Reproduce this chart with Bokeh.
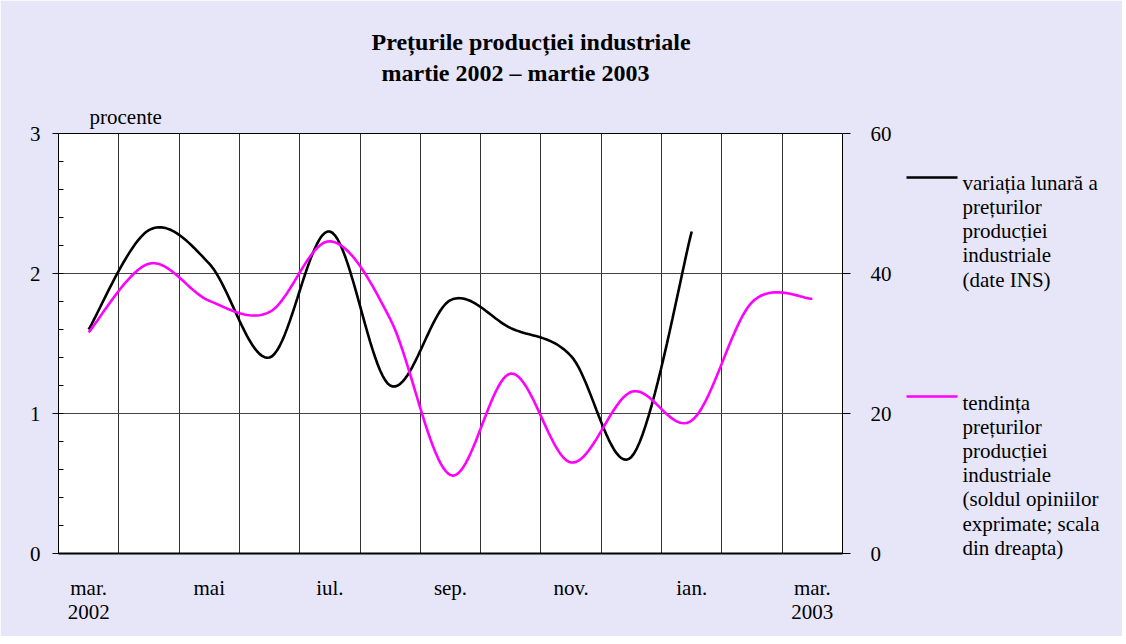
import numpy as np
from bokeh.plotting import figure
from bokeh.models import (Range1d, LinearAxis, FixedTicker, SingleIntervalTicker, Title)
from bokeh.embed import file_html
from bokeh.resources import INLINE

# ---------------- data ----------------
months = ["mar.", "apr.", "mai", "iun.", "iul.", "aug.", "sep.", "oct.",
          "nov.", "dec.", "ian.", "feb.", "mar."]
tick_months = ["mar.", "mai", "iul.", "sep.", "nov.", "ian.", "mar."]
years = ["2002", "2003"]
# monthly variation of industrial producer prices (%, left scale), mar 2002 - ian 2003
variatia = [1.60, 2.31, 2.07, 1.40, 2.30, 1.20, 1.81, 1.61, 1.41, 0.69, 2.30]
# price tendency (balance of opinions, right scale), mar 2002 - mar 2003
tendinta = [31.6, 41.4, 36.1, 34.5, 44.6, 33.5, 11.2, 25.7, 13.0, 23.1, 19.0, 35.9, 36.4]

title_lines = ["Prețurile producției industriale", "martie 2002 – martie 2003"]
unit_label = "procente"
legend1 = ["variația lunară a", "prețurilor", "producției", "industriale", "(date INS)"]
legend2 = ["tendința", "prețurilor", "producției", "industriale",
           "(soldul opiniilor", "exprimate; scala", "din dreapta)"]
series_colors = ["black", "#ff00ff"]

FONT = "Liberation Serif"
BG = "#e6e6f8"


def smooth(vals, n=24):
    """Excel-like smoothed line (cubic Bezier through the points)."""
    y = np.asarray(vals, float)
    x = np.arange(len(y), dtype=float)
    xs, ys = [], []
    m = len(y)
    for i in range(m - 1):
        a = i - 1 if i > 0 else i
        d = i + 2 if i + 2 < m else i + 1
        c1x = x[i] + (x[i + 1] - x[a]) / 6
        c1y = y[i] + (y[i + 1] - y[a]) / 6
        c2x = x[i + 1] - (x[d] - x[i]) / 6
        c2y = y[i + 1] - (y[d] - y[i]) / 6
        t = np.linspace(0, 1, n, endpoint=(i == m - 2))
        xs.append((1 - t) ** 3 * x[i] + 3 * (1 - t) ** 2 * t * c1x + 3 * (1 - t) * t ** 2 * c2x + t ** 3 * x[i + 1])
        ys.append((1 - t) ** 3 * y[i] + 3 * (1 - t) ** 2 * t * c1y + 3 * (1 - t) * t ** 2 * c2y + t ** 3 * y[i + 1])
    return np.concatenate(xs), np.concatenate(ys)


TOP, LEFT, FW, FH = 133, 58, 784, 420
nm = len(months)
p = figure(width=1122, height=636, x_range=Range1d(-0.5, nm - 0.5), y_range=Range1d(0, 3),
           output_backend="svg", toolbar_location=None, title=None,
           min_border_left=LEFT, min_border_right=1122 - LEFT - FW,
           min_border_top=TOP, min_border_bottom=636 - TOP - FH)
p.border_fill_color = BG
p.background_fill_color = "white"
p.outline_line_color = "black"
p.outline_line_width = 1

# x axis (months)
tick_pos = list(range(0, nm, 2))
p.xaxis.ticker = FixedTicker(ticks=tick_pos)
p.xaxis.major_label_overrides = {k: lab for k, lab in zip(tick_pos, tick_months)}
p.xaxis.major_tick_out = 0
p.xaxis.major_tick_in = 0
p.xaxis.minor_tick_out = 0
p.xaxis.minor_tick_in = 0
p.xaxis.axis_line_width = 2
p.xaxis.axis_line_color = "black"
p.xaxis.major_label_standoff = 22
p.xaxis.major_label_text_font = FONT
p.xaxis.major_label_text_font_size = "21px"
p.xaxis.major_label_text_color = "black"

# year axis
yax = LinearAxis(ticker=FixedTicker(ticks=[0, nm - 1]),
                 major_label_overrides={0: years[0], nm - 1: years[1]},
                 axis_line_color=None, major_tick_out=0, major_tick_in=0,
                 minor_tick_out=0, minor_tick_in=0, major_label_standoff=2,
                 major_label_text_font=FONT, major_label_text_font_size="21px",
                 major_label_text_color="black")
p.add_layout(yax, "below")

# left axis
p.yaxis.ticker = SingleIntervalTicker(interval=1, num_minor_ticks=5)
p.yaxis.major_tick_out = 6
p.yaxis.major_tick_in = 0
p.yaxis.minor_tick_in = 5
p.yaxis.minor_tick_out = 0
p.yaxis.axis_line_color = "black"
p.yaxis.major_tick_line_color = "black"
p.yaxis.minor_tick_line_color = "black"
p.yaxis.major_label_standoff = 12
p.yaxis.major_label_text_font = FONT
p.yaxis.major_label_text_font_size = "21px"
p.yaxis.major_label_text_color = "black"

# right axis
p.extra_y_ranges = {"right": Range1d(0, 60),
                    # page-pixel rows, used only to place the legend beside the chart
                    "page": Range1d(TOP + FH, TOP)}
rax = LinearAxis(y_range_name="right", ticker=SingleIntervalTicker(interval=20, num_minor_ticks=0),
                 major_tick_out=8, major_tick_in=0, minor_tick_out=0, minor_tick_in=0,
                 axis_line_color="black", major_label_standoff=20,
                 major_label_text_font=FONT, major_label_text_font_size="21px",
                 major_label_text_color="black")
p.add_layout(rax, "right")

# grids
p.xgrid.ticker = FixedTicker(ticks=[i + 0.5 for i in range(nm - 1)])
p.xgrid.grid_line_color = "#333333"
p.xgrid.grid_line_width = 1
p.ygrid.ticker = FixedTicker(ticks=[1, 2])
p.ygrid.grid_line_color = "#444444"
p.ygrid.grid_line_width = 1

# lines
bx, by = smooth(variatia)
p.line(bx, by, line_color=series_colors[0], line_width=2.6)
mx, my = smooth(tendinta)
p.line(mx, my, line_color=series_colors[1], line_width=2.6, y_range_name="right")

# titles (stacked above the frame: nearest first)
p.add_layout(Title(text=unit_label, align="left", offset=31, standoff=9,
                   text_font=FONT, text_font_size="21px", text_font_style="normal",
                   text_color="black"), "above")
p.add_layout(Title(text=title_lines[1], align="left", offset=323, standoff=25,
                   text_font=FONT, text_font_size="24px", text_font_style="bold",
                   text_color="black"), "above")
p.add_layout(Title(text=title_lines[0], align="left", offset=313, standoff=-18,
                   text_font=FONT, text_font_size="24px", text_font_style="bold",
                   text_color="black"), "above")

# ---------------- legend, built from extra right-side axes ----------------
SW_X0, SW_X1 = 907, 958          # swatch extent (page px)
AX_X0 = 895                      # where the swatch panel starts (page px)
swatch_rows = [177, 396]
sw1 = LinearAxis(y_range_name="page", ticker=FixedTicker(ticks=[swatch_rows[0]]),
                 major_label_overrides={swatch_rows[0]: ""}, major_label_standoff=0,
                 major_label_text_font_size="0px",
                 axis_line_color=None, minor_tick_in=0, minor_tick_out=0,
                 major_tick_in=-(SW_X0 - AX_X0), major_tick_out=SW_X1 - AX_X0,
                 major_tick_line_color=series_colors[0], major_tick_line_width=2.6)
p.add_layout(sw1, "right")
sw2 = LinearAxis(y_range_name="page", ticker=FixedTicker(ticks=[swatch_rows[1]]),
                 major_label_overrides={swatch_rows[1]: ""}, major_label_standoff=0,
                 major_label_text_font_size="0px",
                 axis_line_color=None, minor_tick_in=0, minor_tick_out=0,
                 major_tick_in=SW_X1 - SW_X0, major_tick_out=0,
                 major_tick_line_color=series_colors[1], major_tick_line_width=2.6)
p.add_layout(sw2, "right")

rows, texts = [], []
for lines, y0, dy in [(legend1, 182, 24.3), (legend2, 402, 24.2)]:
    for k, t in enumerate(lines):
        rows.append(round(y0 + dy * k, 1))
        texts.append(t)
lax = LinearAxis(y_range_name="page", ticker=FixedTicker(ticks=rows),
                 major_label_overrides=dict(zip(rows, texts)), major_label_standoff=5,
                 axis_line_color=None, major_tick_in=0, major_tick_out=0,
                 minor_tick_in=0, minor_tick_out=0,
                 major_label_text_font=FONT, major_label_text_font_size="21px",
                 major_label_text_color="black")
p.add_layout(lax, "right")

open("out.html", "w").write(file_html(p, INLINE))
